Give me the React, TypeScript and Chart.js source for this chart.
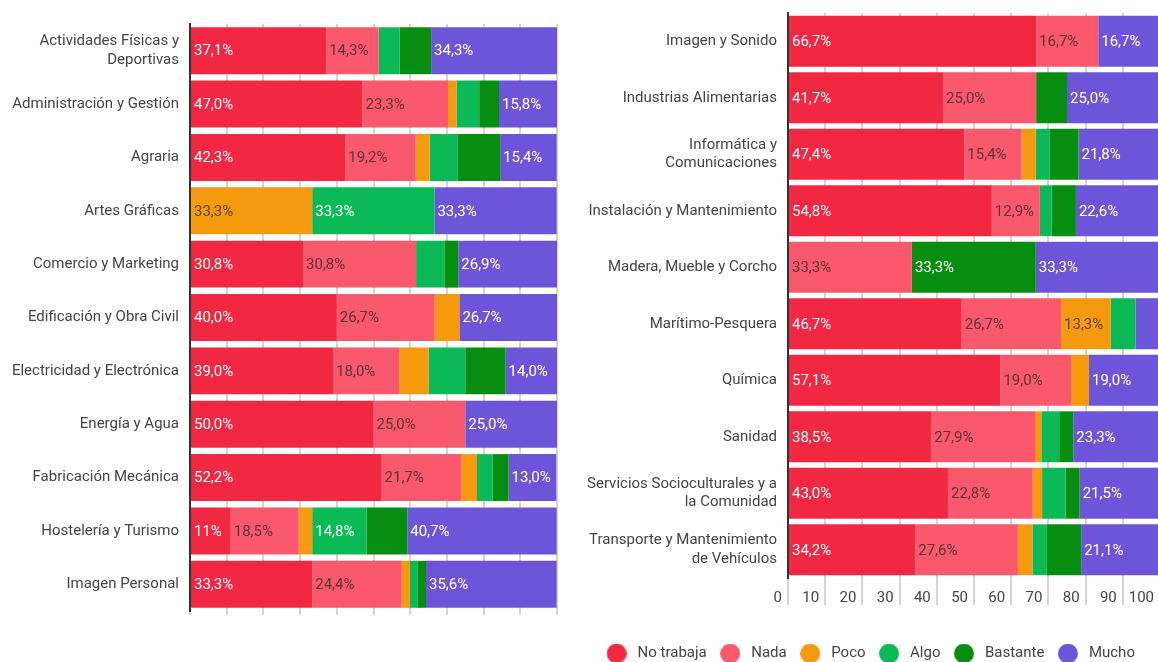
import React, { useEffect, useRef } from 'react';
import { Chart, registerables } from 'chart.js';

Chart.register(...registerables);

const SERIES = ['No trabaja', 'Nada', 'Poco', 'Algo', 'Bastante', 'Mucho'];
const COLORS = ['#f22843', '#fa586c', '#f5990f', '#0bb957', '#078e10', '#6d55da'];
const LABEL_COLORS = ['#ffffff', 'rgba(40,40,40,0.75)', 'rgba(40,40,40,0.75)', '#ffffff', '#ffffff', '#ffffff'];

// Left chart
const categoriesL = [
  ['Actividades Físicas y', 'Deportivas'],
  'Administración y Gestión',
  'Agraria',
  'Artes Gráficas',
  'Comercio y Marketing',
  'Edificación y Obra Civil',
  'Electricidad y Electrónica',
  'Energía y Agua',
  'Fabricación Mecánica',
  'Hostelería y Turismo',
  'Imagen Personal',
];
const noTrabajaL = [37.1, 47.0, 42.3, 0, 30.8, 40.0, 39.0, 50.0, 52.2, 11.1, 33.3];
const nadaL = [14.3, 23.3, 19.2, 0, 30.8, 26.7, 18.0, 25.0, 21.7, 18.5, 24.4];
const pocoL = [0, 2.3, 3.8, 33.3, 0, 6.7, 8.0, 0, 4.3, 3.7, 2.2];
const algoL = [5.7, 6.2, 7.7, 33.3, 7.7, 0, 10.0, 0, 4.3, 14.8, 2.2];
const bastanteL = [8.6, 5.4, 11.5, 0, 3.8, 0, 11.0, 0, 4.3, 11.1, 2.2];
const muchoL = [34.3, 15.8, 15.4, 33.3, 26.9, 26.7, 14.0, 25.0, 13.0, 40.7, 35.6];

const noTrabajaLabelsL = ['37,1%', '47,0%', '42,3%', '', '30,8%', '40,0%', '39,0%', '50,0%', '52,2%', '11%', '33,3%'];
const nadaLabelsL = ['14,3%', '23,3%', '19,2%', '', '30,8%', '26,7%', '18,0%', '25,0%', '21,7%', '18,5%', '24,4%'];
const pocoLabelsL = ['', '', '', '33,3%', '', '', '', '', '', '', ''];
const algoLabelsL = ['', '', '', '33,3%', '', '', '', '', '', '14,8%', ''];
const bastanteLabelsL = ['', '', '', '', '', '', '', '', '', '', ''];
const muchoLabelsL = ['34,3%', '15,8%', '15,4%', '33,3%', '26,9%', '26,7%', '14,0%', '25,0%', '13,0%', '40,7%', '35,6%'];

// Right chart
const categoriesR = [
  'Imagen y Sonido',
  'Industrias Alimentarias',
  ['Informática y', 'Comunicaciones'],
  'Instalación y Mantenimiento',
  'Madera, Mueble y Corcho',
  'Marítimo-Pesquera',
  'Química',
  'Sanidad',
  ['Servicios Socioculturales y a', 'la Comunidad'],
  ['Transporte y Mantenimiento', 'de Vehículos'],
];
const noTrabajaR = [66.7, 41.7, 47.4, 54.8, 0, 46.7, 57.1, 38.5, 43.0, 34.2];
const nadaR = [16.7, 25.0, 15.4, 12.9, 33.3, 26.7, 19.0, 27.9, 22.8, 27.6];
const pocoR = [0, 0, 3.8, 0, 0, 13.3, 4.8, 1.7, 2.5, 3.9];
const algoR = [0, 0, 3.8, 3.2, 0, 6.7, 0, 4.8, 6.3, 3.9];
const bastanteR = [0, 8.3, 7.7, 6.5, 33.3, 0, 0, 3.8, 3.8, 9.2];
const muchoR = [16.7, 25.0, 21.8, 22.6, 33.3, 6.7, 19.0, 23.3, 21.5, 21.1];

const noTrabajaLabelsR = ['66,7%', '41,7%', '47,4%', '54,8%', '', '46,7%', '57,1%', '38,5%', '43,0%', '34,2%'];
const nadaLabelsR = ['16,7%', '25,0%', '15,4%', '12,9%', '33,3%', '26,7%', '19,0%', '27,9%', '22,8%', '27,6%'];
const pocoLabelsR = ['', '', '', '', '', '13,3%', '', '', '', ''];
const algoLabelsR = ['', '', '', '', '', '', '', '', '', ''];
const bastanteLabelsR = ['', '', '', '', '33,3%', '', '', '', '', ''];
const muchoLabelsR = ['16,7%', '25,0%', '21,8%', '22,6%', '33,3%', '', '19,0%', '23,3%', '21,5%', '21,1%'];

const xTicks = [0, 10, 20, 30, 40, 50, 60, 70, 80, 90, 100];

const FONT = 'Roboto';
const FS = 15;
const TEXT = '#444444';
const GRID = '#d4d4d4';

const segLabelPlugin = {
  id: 'segLabels',
  afterDatasetsDraw(chart: any) {
    const ctx = chart.ctx;
    ctx.save();
    ctx.font = `${FS}px ${FONT}`;
    ctx.textBaseline = 'middle';
    ctx.textAlign = 'left';
    chart.data.datasets.forEach((ds: any, i: number) => {
      const meta = chart.getDatasetMeta(i);
      meta.data.forEach((el: any, j: number) => {
        const t = ds.segLabels[j];
        if (!t) return;
        const left = Math.min(el.x, el.base);
        ctx.fillStyle = ds.labelColor;
        ctx.fillText(t, left + 3, el.y + 1);
      });
    });
    ctx.restore();
  },
};

function makeDot(color: string): HTMLCanvasElement {
  const c = document.createElement('canvas');
  c.width = 20;
  c.height = 20;
  const g = c.getContext('2d') as CanvasRenderingContext2D;
  g.fillStyle = color;
  g.beginPath();
  g.arc(10, 10, 10, 0, Math.PI * 2);
  g.fill();
  return c;
}

function buildDatasets(values: number[][], labels: string[][], barPct: number) {
  return values.map((v, i) => ({
    label: SERIES[i],
    data: v,
    backgroundColor: COLORS[i],
    borderWidth: 0,
    barPercentage: barPct,
    categoryPercentage: 1,
    segLabels: labels[i],
    labelColor: LABEL_COLORS[i],
  }));
}

function makeConfig(opts: {
  categories: any[];
  values: number[][];
  labels: string[][];
  barPct: number;
  yWidth: number;
  xHeight: number;
  padding: any;
  showX: boolean;
  tickLength: number;
  legend: boolean;
}): any {
  const dots = COLORS.map((c) => makeDot(c));
  return {
    type: 'bar',
    data: {
      labels: opts.categories,
      datasets: buildDatasets(opts.values, opts.labels, opts.barPct),
    },
    plugins: [segLabelPlugin],
    options: {
      indexAxis: 'y',
      animation: false,
      responsive: true,
      maintainAspectRatio: false,
      layout: { padding: opts.padding },
      plugins: {
        tooltip: { enabled: false },
        legend: {
          display: opts.legend,
          position: 'bottom',
          labels: {
            usePointStyle: true,
            pointStyleWidth: 27,
            boxHeight: 15,
            padding: 10,
            color: TEXT,
            font: { family: FONT, size: FS },
            generateLabels: (chart: any) => {
              const items = Chart.defaults.plugins.legend.labels.generateLabels(chart);
              return items.map((it: any, i: number) => ({ ...it, pointStyle: dots[i] }));
            },
          },
        },
      },
      scales: {
        x: {
          stacked: true,
          min: 0,
          max: 100,
          afterBuildTicks: (scale: any) => {
            scale.ticks = xTicks.map((v) => ({ value: v }));
          },
          afterFit: (scale: any) => {
            scale.height = opts.xHeight;
          },
          border: { display: false },
          grid: {
            color: GRID,
            lineWidth: 2,
            drawTicks: true,
            tickLength: opts.tickLength,
          },
          ticks: {
            display: opts.showX,
            align: 'end',
            labelOffset: -6,
            padding: -16,
            color: TEXT,
            font: { family: FONT, size: FS },
          },
        },
        y: {
          stacked: true,
          afterFit: (scale: any) => {
            scale.width = opts.yWidth;
            scale.paddingTop = 0;
            scale.paddingBottom = 0;
          },
          border: { display: true, color: '#333333', width: 2 },
          grid: { display: false, drawTicks: false },
          ticks: {
            autoSkip: false,
            padding: 11,
            color: TEXT,
            font: { family: FONT, size: FS, lineHeight: 1.22 },
          },
        },
      },
    },
  };
}

export default function App() {
  const leftRef = useRef<HTMLCanvasElement>(null);
  const rightRef = useRef<HTMLCanvasElement>(null);

  useEffect(() => {
    const c1 = new Chart(
      leftRef.current as HTMLCanvasElement,
      makeConfig({
        categories: categoriesL,
        values: [noTrabajaL, nadaL, pocoL, algoL, bastanteL, muchoL],
        labels: [noTrabajaLabelsL, nadaLabelsL, pocoLabelsL, algoLabelsL, bastanteLabelsL, muchoLabelsL],
        barPct: 0.88,
        yWidth: 190,
        xHeight: 29,
        padding: { top: 24, right: 18, bottom: 0, left: 0 },
        showX: false,
        tickLength: 4,
        legend: false,
      })
    );
    const c2 = new Chart(
      rightRef.current as HTMLCanvasElement,
      makeConfig({
        categories: categoriesR,
        values: [noTrabajaR, nadaR, pocoR, algoR, bastanteR, muchoR],
        labels: [noTrabajaLabelsR, nadaLabelsR, pocoLabelsR, algoLabelsR, bastanteLabelsR, muchoLabelsR],
        barPct: 0.9,
        yWidth: 210,
        xHeight: 58,
        padding: { top: 13, right: 2, bottom: 0, left: 0 },
        showX: true,
        tickLength: 27,
        legend: true,
      })
    );
    return () => {
      c1.destroy();
      c2.destroy();
    };
  }, []);

  return (
    <div
      style={{
        position: 'fixed',
        left: 0,
        top: 0,
        width: 1158,
        height: 662,
        overflow: 'hidden',
        background: '#ffffff',
      }}
    >
      <div style={{ position: 'absolute', left: 0, top: 0, width: 575, height: 640 }}>
        <canvas ref={leftRef} />
      </div>
      <div style={{ position: 'absolute', left: 578, top: 0, width: 584, height: 671 }}>
        <canvas ref={rightRef} />
      </div>
    </div>
  );
}
